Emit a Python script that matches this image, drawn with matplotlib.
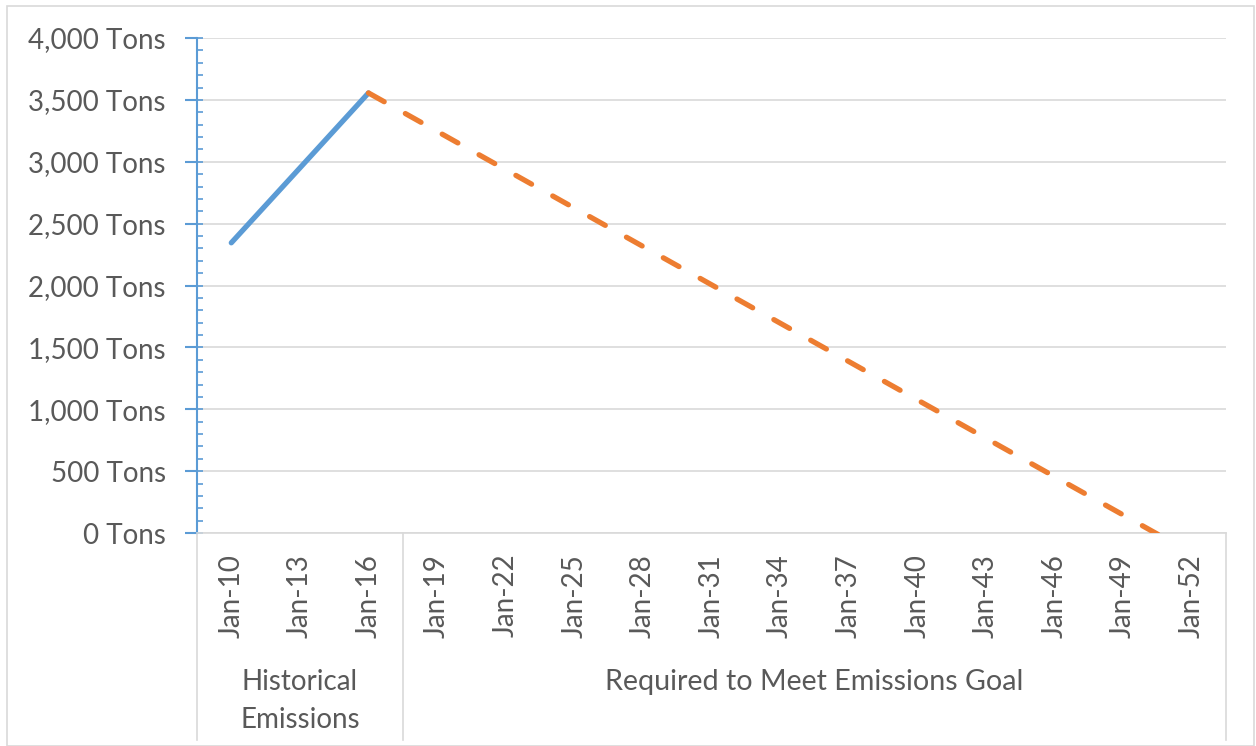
import numpy as np
import matplotlib
matplotlib.use('Agg')
import matplotlib.pyplot as plt
from matplotlib.ticker import MultipleLocator, FuncFormatter

plt.rcParams['font.family'] = ['Lato', 'DejaVu Sans']

# emissions data, one point every three years
years = ['Jan-10', 'Jan-13', 'Jan-16', 'Jan-19', 'Jan-22', 'Jan-25', 'Jan-28', 'Jan-31',
         'Jan-34', 'Jan-37', 'Jan-40', 'Jan-43', 'Jan-46', 'Jan-49', 'Jan-52']
historical = [2345, 2950, 3556, None, None, None, None, None,
              None, None, None, None, None, None, None]
required = [None, None, 3556, 3246, 2936, 2626, 2316, 2006,
            1696, 1386, 1076, 766, 456, 146, -164]
groups = ['Historical\nEmissions', 'Required to Meet Emissions Goal']
group_spans = [(0, 2), (3, 14)]

txt = '#595959'
grid = '#D9D9D9'
blue = '#5B9BD5'
orange = '#ED7D31'
fs = 20

fig = plt.figure(figsize=(12.56, 7.46), dpi=100)
ax = fig.add_axes([197/1256, 1 - 533/746, (1226-197)/1256, (533-38)/746])

x = np.arange(len(years))
hist = np.array([np.nan if v is None else v for v in historical], dtype=float)
req = np.array([np.nan if v is None else v for v in required], dtype=float)

ax.plot(x, hist, color=blue, lw=3.8, solid_capstyle='round', zorder=3)
ax.plot(x, req, color=orange, lw=3.8, dashes=(3.4, 4.6), dash_capstyle='round', zorder=3)

ax.set_xlim(-0.5, len(years) - 0.5)
ax.set_ylim(0, 4000)

ax.yaxis.set_major_locator(MultipleLocator(500))
ax.yaxis.set_minor_locator(MultipleLocator(100))
ax.yaxis.remove_overlapping_locs = False
ax.yaxis.set_major_formatter(FuncFormatter(lambda v, p: '{:,.0f} Tons'.format(v)))
ax.grid(axis='y', color=grid, lw=1.2)
ax.set_axisbelow(True)

for s in ['top', 'right']:
    ax.spines[s].set_visible(False)
ax.spines['left'].set_color(blue)
ax.spines['left'].set_linewidth(1.5)
ax.spines['bottom'].set_color(grid)
ax.spines['bottom'].set_linewidth(1.2)

ax.tick_params(axis='y', which='major', direction='out', length=8.5, width=1.5,
               color=blue, labelsize=fs, labelcolor=txt, pad=14)
ax.tick_params(axis='y', which='minor', direction='in', length=4.5, width=1.2, color=blue)

ax.set_xticks(x)
ax.set_xticklabels(years, rotation=90, va='top', ha='center')
ax.tick_params(axis='x', length=0, labelsize=fs, labelcolor=txt, pad=15)

# category group separators and group names below the axis
tr = ax.get_xaxis_transform()
for sx in [-0.5, 2.5, len(years) - 0.5]:
    ax.plot([sx, sx], [0, -0.418], color=grid, lw=1.2, transform=tr, clip_on=False)
ax.text(1, -0.339, groups[0], transform=tr, ha='center', va='center',
        fontsize=fs, color=txt, linespacing=1.55)
ax.text((group_spans[1][0] + group_spans[1][1]) / 2, -0.301, groups[1], transform=tr,
        ha='center', va='center', fontsize=20.6, color=txt)

# chart border
fig.patches.append(plt.Rectangle((7/1256, 0), (1254-7)/1256, 1 - 6/746, transform=fig.transFigure,
                                 fill=False, edgecolor=grid, lw=1.2))

fig.savefig('out.png', dpi=100)
